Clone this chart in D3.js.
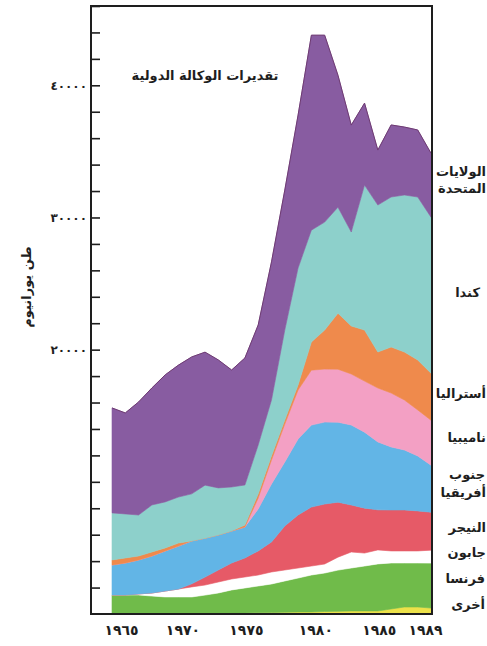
<!DOCTYPE html>
<html>
<head>
<meta charset="utf-8">
<script src="https://cdn.jsdelivr.net/npm/d3@7/dist/d3.min.js"></script>
<style>
  body { margin: 0; background: #fff; }
  text { font-family: "DejaVu Sans", sans-serif; font-weight: bold; fill: #1e1e1e; }
</style>
</head>
<body>
<script>
// Uranium production by country, tonnes (IAEA estimates)
const years = [1965, 1966, 1967, 1968, 1969, 1970, 1971, 1972, 1973, 1974, 1975, 1976, 1977,
  1978, 1979, 1980, 1981, 1982, 1983, 1984, 1985, 1986, 1987, 1988, 1989];

const others      = [0, 0, 0, 0, 0, 30, 40, 50, 60, 80, 80, 100, 110, 130, 150, 150, 190, 200, 230, 230, 230, 380, 530, 530, 450];
const france      = [1440, 1440, 1440, 1360, 1290, 1260, 1250, 1380, 1530, 1740, 1890, 2020, 2160, 2370, 2570, 2800, 2910, 3120, 3250, 3400, 3560, 3480, 3330, 3330, 3400];
const gabon       = [0, 0, 80, 230, 450, 600, 760, 760, 830, 830, 830, 830, 910, 830, 760, 680, 680, 980, 1210, 980, 1060, 910, 910, 910, 980];
const niger       = [0, 0, 0, 0, 0, 0, 230, 600, 910, 1210, 1440, 1820, 2270, 3330, 4010, 4460, 4540, 4160, 3560, 3400, 3030, 3100, 3100, 3030, 2870];
const southAfrica = [2270, 2420, 2570, 2800, 3030, 3250, 3250, 2950, 2650, 2420, 2340, 3180, 4390, 4840, 5750, 6200, 6200, 6050, 6050, 5750, 5140, 4770, 4540, 4160, 3560];
const namibia     = [0, 0, 0, 0, 0, 0, 0, 0, 0, 0, 0, 830, 1820, 2870, 3710, 4160, 4010, 4010, 3860, 3860, 4080, 4080, 3780, 3480, 3400];
const australia   = [380, 380, 300, 300, 230, 230, 0, 0, 0, 0, 150, 300, 300, 300, 380, 2120, 2950, 4240, 3630, 3860, 2720, 3480, 3630, 3780, 3560];
const canada      = [3560, 3330, 3100, 3560, 3480, 3480, 3560, 4010, 3560, 3330, 3030, 3710, 4240, 6810, 8850, 8470, 8170, 8020, 7110, 10970, 11120, 11350, 11880, 12330, 11800];
const usa         = [7940, 7640, 8550, 8850, 9610, 9980, 10360, 10060, 9680, 8850, 9610, 9080, 10440, 10590, 11570, 14750, 14140, 9980, 8090, 6200, 4160, 5450, 5140, 5070, 4840];

const seriesNames = ["others", "france", "gabon", "niger", "southAfrica", "namibia", "australia", "canada", "usa"];
const seriesValues = [others, france, gabon, niger, southAfrica, namibia, australia, canada, usa];
const seriesColors = ["#ece14a", "#70bb4a", "#ffffff", "#e65a67", "#62b5e6", "#f3a0c4", "#ef8a4c", "#8dd0cb", "#885ca1"];

// right-hand labels (top to bottom on the page)
const labelText = [
  ["الولايات", "المتحدة"],
  ["كندا"],
  ["أستراليا"],
  ["ناميبيا"],
  ["جنوب", "أفريقيا"],
  ["النيجر"],
  ["جابون"],
  ["فرنسا"],
  ["أخرى"]
];
const xTicks = [1965, 1970, 1975, 1980, 1985, 1989];
const yLabelTicks = [20000, 30000, 40000];

const title = "تقديرات الوكالة الدولية";
const yTitle = "طن يورانيوم";

// layout
const W = 487, H = 646;
const frame = { left: 91, right: 432, top: 6, bottom: 614 };
const xLabelShift = [9, 4, 1, 4, 1, -6];
const labelLayout = [
  { y: [171, 188], x: [486, 486] },
  { y: [292], x: [480] },
  { y: [393], x: [486] },
  { y: [437], x: [486] },
  { y: [474, 492], x: [485, 486] },
  { y: [527], x: [486] },
  { y: [552], x: [486] },
  { y: [578], x: [485] },
  { y: [604], x: [485] }
];

const arabicDigits = s => String(s).replace(/\d/g, d => "٠١٢٣٤٥٦٧٨٩"[d]);

const svg = d3.select("body").append("svg")
  .attr("width", W)
  .attr("height", H)
  .attr("xmlns", "http://www.w3.org/2000/svg");

const x = d3.scaleLinear().domain([1965, 1989]).range([112, 431]);
const y = d3.scaleLinear().domain([0, 46000]).range([frame.bottom, frame.top]);

const rows = years.map((yr, i) => {
  const r = { year: yr };
  seriesNames.forEach((k, j) => r[k] = seriesValues[j][i]);
  return r;
});

const stacked = d3.stack().keys(seriesNames)(rows);

const area = d3.area()
  .x(d => x(d.data.year))
  .y0(d => y(d[0]))
  .y1(d => y(d[1]));

svg.append("g")
  .selectAll("path")
  .data(stacked)
  .enter()
  .append("path")
  .attr("d", area)
  .attr("fill", (d, i) => seriesColors[i])
  .attr("stroke", (d, i) => seriesColors[i])
  .attr("stroke-width", 0.6);

// thin dark edge on top of the US band
const topLine = d3.line()
  .x(d => x(d.data.year))
  .y(d => y(d[1]));
svg.append("path")
  .attr("d", topLine(stacked[stacked.length - 1]))
  .attr("fill", "none")
  .attr("stroke", "#6e3a72")
  .attr("stroke-width", 1);

// Y axis with inward ticks every 2000
const yAxis = d3.axisLeft(y)
  .tickValues(d3.range(2000, 46001, 2000))
  .tickSizeInner(-9)
  .tickSizeOuter(0)
  .tickPadding(4)
  .tickFormat(d => yLabelTicks.includes(d) ? arabicDigits(d) : "");

const gy = svg.append("g")
  .attr("transform", "translate(" + frame.left + ",0)")
  .call(yAxis);
gy.select(".domain").remove();
gy.selectAll("line").attr("stroke", "#1e1e1e").attr("stroke-width", 1.6);
gy.selectAll("text")
  .style("font-size", "12px")
  .style("letter-spacing", "4px")
  .attr("fill", "#1e1e1e");

// X axis labels
const xAxis = d3.axisBottom(x)
  .tickValues(xTicks)
  .tickSize(0)
  .tickPadding(11)
  .tickFormat(arabicDigits);

const gx = svg.append("g")
  .attr("transform", "translate(0," + frame.bottom + ")")
  .call(xAxis);
gx.select(".domain").remove();
gx.selectAll("text")
  .style("font-size", "14px")
  .style("letter-spacing", "1.5px")
  .attr("fill", "#1e1e1e")
  .attr("dx", (d, i) => xLabelShift[i]);

// frame
svg.append("rect")
  .attr("x", frame.left)
  .attr("y", frame.top)
  .attr("width", frame.right - frame.left)
  .attr("height", frame.bottom - frame.top)
  .attr("fill", "none")
  .attr("stroke", "#1e1e1e")
  .attr("stroke-width", 2);

// title inside plot
svg.append("text")
  .attr("x", 205)
  .attr("y", 80)
  .attr("text-anchor", "middle")
  .style("font-size", "13px")
  .text(title);

// y title
svg.append("text")
  .attr("transform", "translate(31,287) rotate(-90)")
  .attr("text-anchor", "middle")
  .style("font-size", "13px")
  .text(yTitle);

// series labels on the right
labelText.forEach((lines, i) => {
  lines.forEach((t, j) => {
    svg.append("text")
      .attr("x", labelLayout[i].x[j])
      .attr("y", labelLayout[i].y[j])
      .attr("dy", "0.35em")
      .attr("text-anchor", "end")
      .style("font-size", "13px")
      .text(t);
  });
});
</script>
</body>
</html>
